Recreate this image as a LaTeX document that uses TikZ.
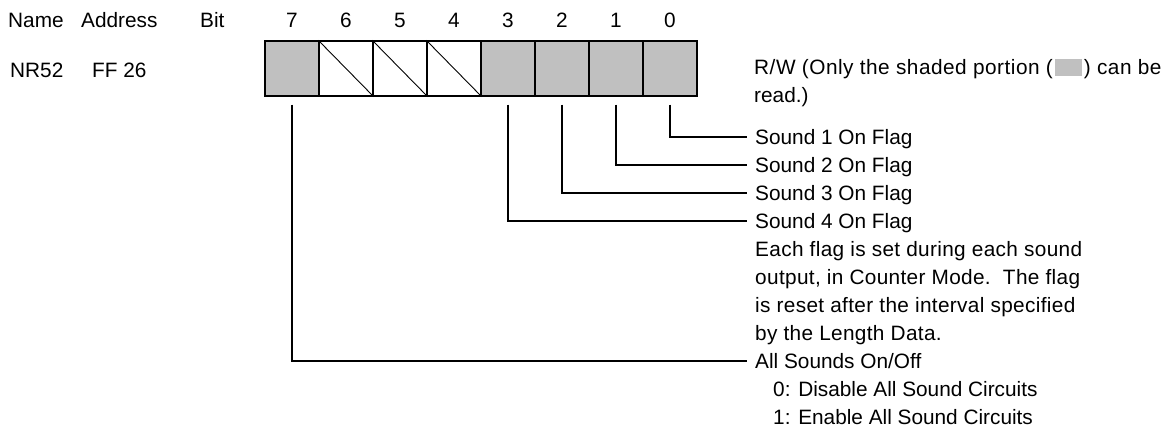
\documentclass[tikz,border=0pt]{standalone}
\usepackage{fontspec}
\setmainfont{Liberation Sans}
\definecolor{shade}{RGB}{192,192,192}
\begin{document}
\begin{tikzpicture}[x=1pt,y=-1pt,
  txt/.style={inner sep=0pt, anchor=west, font=\fontsize{20.8}{25}\selectfont, text height=14.9pt, text depth=0pt},
  widetxt/.style={txt, font=\fontsize{20.8}{25}\selectfont\addfontfeature{LetterSpace=1.6}},
  rwtxt/.style={txt, font=\fontsize{20.8}{25}\selectfont\addfontfeature{LetterSpace=2.4}},
  ctxt/.style={txt, anchor=center},
  cell/.style={draw, line width=1.5pt, minimum width=54pt, minimum height=55pt, inner sep=0pt},
  full/.style={cell, fill=shade},
  link/.style={line width=1.4pt},
  slash/.style={line width=0.9pt}]
\useasboundingbox (0,0) rectangle (1173,427);
% header
\node[txt] (hname) at (8,20) {Name};
\node[txt] (haddr) at (81,20) {Address};
\node[txt] (hbit) at (200,20) {Bit};
\node[txt] (rname) at (10,70) {NR52};
\node[txt] (raddr) at (92,70) {FF 26};
% cells
\node[full] (b7) at (292,68.5) {};
\node[cell] (b6) at (346,68.5) {};
\node[cell] (b5) at (400,68.5) {};
\node[cell] (b4) at (454,68.5) {};
\node[full] (b3) at (508,68.5) {};
\node[full] (b2) at (562,68.5) {};
\node[full] (b1) at (616,68.5) {};
\node[full] (b0) at (670,68.5) {};
\foreach \b in {6,5,4}{\draw[slash] (b\b.north west) -- (b\b.south east);}
\foreach \b in {7,6,5,4,3,2,1,0}{\node[ctxt] (n\b) at ([yshift=48.5pt]b\b.center) {\b};}
% description
\node[rwtxt] (rw) at (754,67) {R/W (Only the shaded portion (\hspace{2pt}\textcolor{shade}{\rule[-1.5pt]{27pt}{17pt}}\hspace{2pt}) can be};
\node[txt] (rw2) at (754,95) {read.)};
\node[txt] (s1) at (755,137) {Sound 1 On Flag};
\node[txt] (s2) at (755,165) {Sound 2 On Flag};
\node[txt] (s3) at (755,193) {Sound 3 On Flag};
\node[txt] (s4) at (755,221) {Sound 4 On Flag};
\node[widetxt] (e1) at (755,249) {Each flag is set during each sound};
\node[widetxt] (e2) at (755,277) {output, in Counter Mode.\ \ The flag};
\node[widetxt] (e3) at (755,305) {is reset after the interval specified};
\node[widetxt] (e4) at (755,333) {by the Length Data.};
\node[txt] (s7) at (755,361) {All Sounds On/Off};
\node[txt] (d0) at (773,389) {0: Disable All Sound Circuits};
\node[txt] (d1) at (773,417) {1: Enable All Sound Circuits};
% connectors
\draw[link] ([yshift=-8pt]b0.south) |- ([xshift=-8pt]s1.west);
\draw[link] ([yshift=-8pt]b1.south) |- ([xshift=-8pt]s2.west);
\draw[link] ([yshift=-8pt]b2.south) |- ([xshift=-8pt]s3.west);
\draw[link] ([yshift=-8pt]b3.south) |- ([xshift=-8pt]s4.west);
\draw[link] ([yshift=-8pt]b7.south) |- ([xshift=-8pt]s7.west);
\end{tikzpicture}
\end{document}
